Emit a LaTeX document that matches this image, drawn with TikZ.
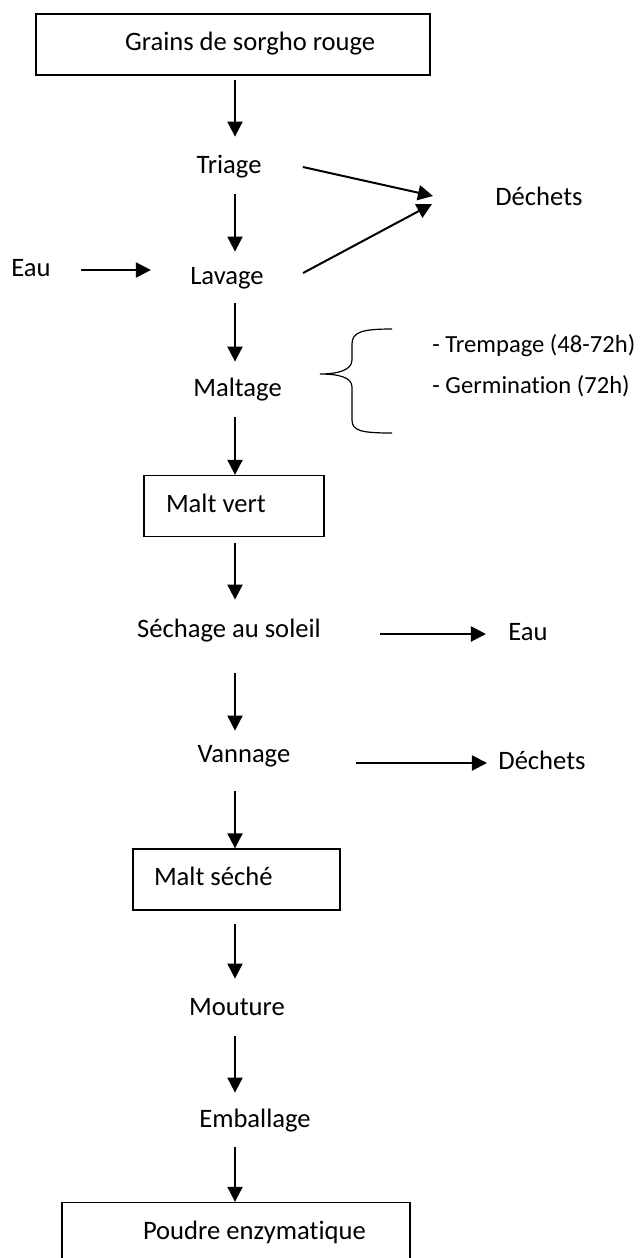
\documentclass[tikz,border=0pt]{standalone}
\usepackage{fontspec}
\setmainfont[Ligatures=NoCommon]{Carlito}
\usetikzlibrary{arrows.meta}
\tikzset{
  stp/.style={font=\fontsize{13.3}{16}\selectfont, inner sep=0pt,
              text height=9pt, text depth=3pt, anchor=base},
  note/.style={stp, font=\fontsize{12.3}{15}\selectfont, anchor=base west},
  blk/.style={draw, line width=0.65pt, font=\fontsize{13.3}{16}\selectfont,
              inner sep=0pt, align=flush left, minimum height=30.5pt,
              text height=9pt, text depth=3pt},
  sig/.style={-{Triangle[length=7.5pt,width=7.5pt]}, line width=1pt},
  brc/.style={line width=0.6pt},
}
\begin{document}
\begin{tikzpicture}[x=0.5pt, y=-0.5pt]
  \useasboundingbox (0,0) rectangle (641,1258);
  \coordinate (col) at (235,0);
  % main line
  \node[blk, text width=197pt] (grain) at (233,44.5) {\hspace*{44.5pt}Grains de sorgho rouge};
  \node[stp] (tri) at (229,173) {Triage};
  \node[stp] (lav) at (227,284) {Lavage};
  \node[stp] (malt) at (237.5,396) {Maltage};
  \node[blk, text width=90pt] (vert) at (234,506) {\hspace*{11pt}Malt vert};
  \node[stp] (sech) at (229,637) {Séchage au soleil};
  \node[stp] (van) at (244,762) {Vannage};
  \node[blk, text width=103.5pt] (msec) at (236.5,879.5) {\hspace*{10.5pt}Malt séché};
  \node[stp] (mout) at (237,1015) {Mouture};
  \node[stp] (emb) at (255,1127) {Emballage};
  \node[blk, text width=174pt] (pou) at (236,1233) {\hspace*{40.5pt}Poudre enzymatique};
  % side items
  \node[stp] (eau) at (31,276) {Eau};
  \node[stp] (dech) at (539,205) {Déchets};
  \node[note] (trem) at (432,352) {- Trempage (48-72h)};
  \node[note] (germ) at (432,393) {- Germination (72h)};
  \node[stp] (eau2) at (528,640) {Eau};
  \node[stp] (dech2) at (542,769) {Déchets};

  \draw[sig, shorten <=2pt, shorten >=9pt] (grain.south -| col) -- (tri.north -| col);
  \draw[sig, shorten <=7.5pt, shorten >=7pt] (tri.south -| col) -- (lav.north -| col);
  \draw[sig, shorten <=6.5pt, shorten >=8pt] (lav.south -| col) -- (malt.north -| col);
  \draw[sig, shorten <=7.5pt] (malt.south -| col) -- (vert.north -| col);
  \draw[sig, shorten <=3pt, shorten >=9.5pt] (vert.south -| col) -- (sech.north -| col);
  \draw[sig, shorten <=15pt, shorten >=6.5pt] (sech.south -| col) -- (van.north -| col);
  \draw[sig, shorten <=11.5pt] (van.south -| col) -- (msec.north -| col);
  \draw[sig, shorten <=6.5pt, shorten >=9pt] (msec.south -| col) -- (mout.north -| col);
  \draw[sig, shorten <=7.5pt, shorten >=8pt] (mout.south -| col) -- (emb.north -| col);
  \draw[sig, shorten <=7pt] (emb.south -| col) -- (pou.north -| col);

  \draw[sig, shorten <=15pt, shorten >=19.5pt] (eau.east) -- (eau.east -| lav.west);
  \coordinate (d1) at ([shift={(-62,-3)}]dech.west);
  \coordinate (d2) at ([shift={(-63,5)}]dech.west);
  \draw[sig] ([xshift=20.5pt]tri.east) -- (d1);
  \draw[sig] ([shift={(39,-5)}]lav.east) -- (d2);
  \draw[sig, shorten <=29.5pt, shorten >=11pt] (eau2.west -| sech.east) -- (eau2.west);
  \draw[sig, shorten <=32.5pt, shorten >=5.5pt] (dech2.west -| van.east) -- (dech2.west);

  % brace for maltage
  \begin{scope}[shift={(320,374)}]
    \draw[brc] (72,-45) .. controls (42,-45) and (32,-42) .. (32,-30) -- (32,-14)
      .. controls (32,-4) and (18,0) .. (0,0)
      .. controls (18,0) and (32,3) .. (32,13) -- (32,46)
      .. controls (32,57) and (42,59) .. (72,59);
  \end{scope}
\end{tikzpicture}
\end{document}
